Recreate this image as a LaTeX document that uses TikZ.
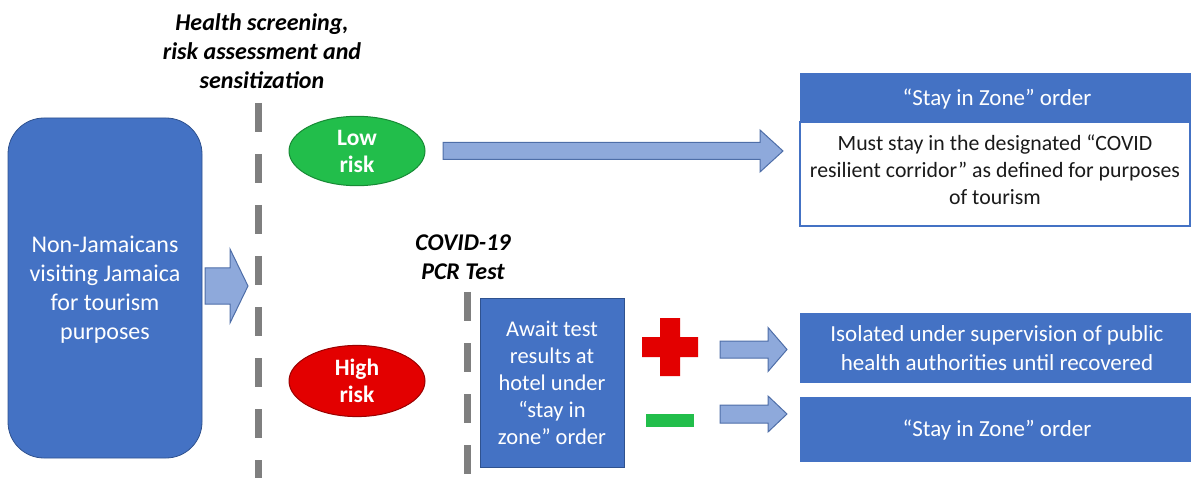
\documentclass[tikz,border=0pt]{standalone}
\usepackage{fontspec}
\setmainfont{Carlito}
\usetikzlibrary{shapes.geometric}
\definecolor{boxblue}{HTML}{4472C4}
\definecolor{boxedge}{HTML}{2F528F}
\definecolor{arrfill}{HTML}{8EA9DB}
\definecolor{arredge}{HTML}{4E6EA8}
\definecolor{dashgray}{HTML}{7F7F7F}
\definecolor{lowgreen}{HTML}{22BE4B}
\definecolor{lowedge}{HTML}{178A35}
\definecolor{highred}{HTML}{E30000}
\definecolor{highedge}{HTML}{9A0000}
\definecolor{txtdark}{HTML}{1A1A1A}
\tikzset{
  bluebox/.style={fill=boxblue, draw=boxedge, line width=0.8pt},
  whitetxt/.style={text=white, align=center, font=\fontsize{23}{29}\selectfont},
  darktxt/.style={text=txtdark, align=center, font=\fontsize{21.8}{27}\selectfont},
  headtxt/.style={text=black, align=center, font=\fontsize{24}{29}\selectfont\bfseries\itshape},
  riskell/.style={ellipse, minimum width=136pt, minimum height=66pt, line width=1pt, text=white, align=center, font=\fontsize{23.5}{27}\selectfont\bfseries},
  barrow/.style={fill=arrfill, draw=arredge, line width=1pt, line join=miter},
  divider/.style={draw=dashgray, line width=7pt, dash pattern=on 29pt off 22pt},
}
\newcommand{\blockarr}[6]{%
  \draw[barrow] (#1,#4-#5) -- (#2,#4-#5) -- (#2,#4-#6) -- (#3,#4) -- (#2,#4+#6) -- (#2,#4+#5) -- (#1,#4+#5) -- cycle;}
\begin{document}
\begin{tikzpicture}[x=1pt,y=-1pt]
\useasboundingbox (0,0) rectangle (1191,478);
% left box
\draw[bluebox, rounded corners=36pt] (8,118) rectangle (202,458);
\node[whitetxt, font=\fontsize{24}{29}\selectfont] (visitors) at (105,290) {Non-Jamaicans\\visiting Jamaica\\for tourism\\purposes};
% big arrow
\blockarr{205}{230}{248}{286}{18}{37}
% dividers
\draw[divider] (258,103) -- (258,478);
\draw[divider] (467,292) -- (467,478);
\node[headtxt] (screen) at (262,51) {Health screening,\\risk assessment and\\sensitization};
\node[headtxt] (pcr) at (463,257) {COVID-19\\PCR Test};
% risk ellipses
\node[riskell, fill=lowgreen, draw=lowedge] (low) at (357,151) {Low\\risk};
\node[riskell, fill=highred, draw=highedge] (high) at (357,381) {High\\risk};
% low risk arrow
\blockarr{443}{760}{783}{151}{8.5}{21}
% top right box
\draw[fill=white, draw=boxblue, line width=1.5pt] (800,122) rectangle (1190,226);
\fill[boxblue] (800,73) rectangle (1191,122);
\node[whitetxt] (stay1) at (997,99) {``Stay in Zone'' order};
\node[darktxt] (must) at (995,170) {Must stay in the designated ``COVID\\resilient corridor'' as defined for purposes\\of tourism};
% await box
\draw[bluebox] (480,298) rectangle (624,467);
\node[whitetxt, font=\fontsize{22.5}{27}\selectfont] (await) at (552,383) {Await test\\results at\\hotel under\\``stay in\\zone'' order};
% plus and minus
\fill[highred] (660,318) -- (680,318) -- (680,337) -- (698,337) -- (698,357) -- (680,357) -- (680,376) -- (660,376) -- (660,357) -- (642,357) -- (642,337) -- (660,337) -- cycle;
\fill[lowgreen] (646,414) rectangle (694,427);
% result arrows
\blockarr{720}{768}{787}{349.5}{8.5}{22}
\blockarr{720}{768}{787}{414}{9}{18}
% result boxes
\fill[boxblue] (800,313) rectangle (1191,383);
\node[whitetxt, font=\fontsize{23}{29}\selectfont] (iso) at (997,348) {Isolated under supervision of public\\health authorities until recovered};
\fill[boxblue] (800,397) rectangle (1191,462);
\node[whitetxt] (stay2) at (997,430) {``Stay in Zone'' order};
\end{tikzpicture}
\end{document}
